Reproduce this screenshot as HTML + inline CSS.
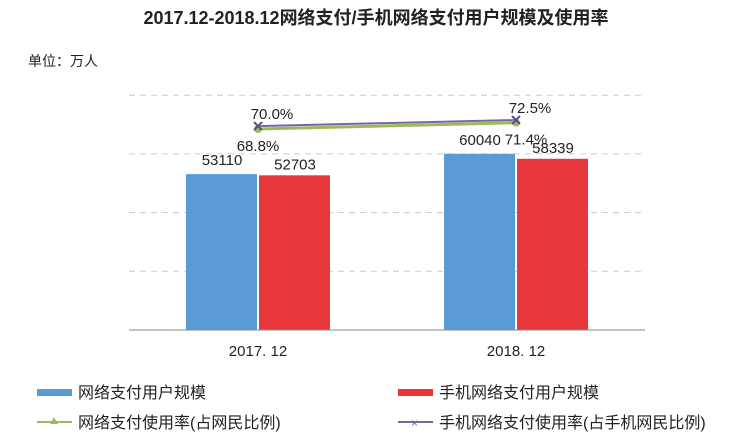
<!DOCTYPE html>
<html><head><meta charset="utf-8"><style>
body{margin:0;background:#fff;}
svg{display:block;font-family:"Liberation Sans","Noto Sans CJK SC",sans-serif;}
</style></head><body>
<svg width="752" height="445">
<rect width="752" height="445" fill="#fff"/>
<text x="376" y="24" text-anchor="middle" font-size="18" font-weight="bold" fill="#222">2017.12-2018.12网络支付/手机网络支付用户规模及使用率</text>
<text x="28" y="66" font-size="14" fill="#222">单位：万人</text>
<g id="grid"></g><g id="bars"></g><g id="lines"></g><g id="labels"></g>
<line x1="129" y1="330" x2="645" y2="330" stroke="#888"/>
<g font-size="16" fill="#222">
<rect x="37" y="389" width="35" height="7" fill="#5b9bd5"/>
<text x="78" y="398">网络支付用户规模</text>
<rect x="398" y="389" width="35" height="7" fill="#e8383d"/>
<text x="439" y="398">手机网络支付用户规模</text>
<line x1="37" y1="422" x2="72" y2="422" stroke="#9bbb59" stroke-width="2"/>
<path d="M54 417 L58 424 L50 424Z" fill="#9bbb59"/>
<text x="78" y="428">网络支付使用率(占网民比例)</text>
<line x1="398" y1="422" x2="433" y2="422" stroke="#7a63a8" stroke-width="2"/>
<text x="411" y="427" font-size="12" fill="#7a63a8">×</text>
<text x="439" y="428">手机网络支付使用率(占手机网民比例)</text>
</g>
</svg>
<script>
const categories=["2017. 12","2018. 12"];
const onlineUsers=[53110,60040];
const mobileUsers=[52703,58339];
const onlineRate=[68.8,71.4];
const mobileRate=[70.0,72.5];
const gridTicks=[20000,40000,60000,80000];
const NS="http://www.w3.org/2000/svg";
function mk(t,a,p){const e=document.createElementNS(NS,t);for(const k in a)e.setAttribute(k,a[k]);p.appendChild(e);return e;}
const x0=129,bandW=258,base=330;
const y=v=>base-v*0.002935;
const y2=v=>129-(v-68.8)*2.43;
const cx=i=>x0+bandW*(i+0.5);
const G=document.getElementById('grid'),B=document.getElementById('bars'),L=document.getElementById('lines'),T=document.getElementById('labels');
gridTicks.forEach(t=>{const l=mk('line',{x1:x0,x2:645,y1:y(t),y2:y(t),stroke:'#ccc','stroke-dasharray':'6 5'},G);

});
categories.forEach((c,i)=>{
 const b1=mk('rect',{x:cx(i)-72,y:y(onlineUsers[i]),width:71,height:base-y(onlineUsers[i]),fill:'#5b9bd5'},B);
 
 
 const b2=mk('rect',{x:cx(i)+1,y:y(mobileUsers[i]),width:71,height:base-y(mobileUsers[i]),fill:'#e8383d'},B);
 
 
 const t1=mk('text',{x:cx(i)-36,y:y(onlineUsers[i])-9,'text-anchor':'middle','font-size':15,fill:'#222'},T);t1.textContent=onlineUsers[i];
 
 
 const t2=mk('text',{x:cx(i)+37,y:y(mobileUsers[i])-6,'text-anchor':'middle','font-size':15,fill:'#222'},T);t2.textContent=mobileUsers[i];
 
 
 const xl=mk('text',{x:cx(i),y:356,'text-anchor':'middle','font-size':15,fill:'#222'},T);xl.textContent=c;
 
 
 const r1=mk('text',{x:cx(i)+(i?10:0),y:y2(onlineRate[i])+22,'text-anchor':'middle','font-size':15,fill:'#222'},T);r1.textContent=onlineRate[i].toFixed(1)+'%';
 
 
 const r2=mk('text',{x:cx(i)+14,y:y2(mobileRate[i])-7,'text-anchor':'middle','font-size':15,fill:'#222'},T);r2.textContent=mobileRate[i].toFixed(1)+'%';
 
 
});
const p1=mk('polyline',{points:categories.map((c,i)=>cx(i)+','+y2(onlineRate[i])).join(' '),fill:'none',stroke:'#9bbb59','stroke-width':3},L);


const p2=mk('polyline',{points:categories.map((c,i)=>cx(i)+','+y2(mobileRate[i])).join(' '),fill:'none',stroke:'#7a63a8','stroke-width':2},L);


categories.forEach((c,i)=>{
 const m=mk('circle',{cx:cx(i),cy:y2(onlineRate[i]),r:4,fill:'#9bbb59'},L);
 
 
 const px=cx(i),py=y2(mobileRate[i]);
 const k=mk('path',{d:`M${px-4} ${py-4}L${px+4} ${py+4}M${px-4} ${py+4}L${px+4} ${py-4}`,stroke:'#5a4a90','stroke-width':2},L);
 
 
});
</script>
</body></html>
